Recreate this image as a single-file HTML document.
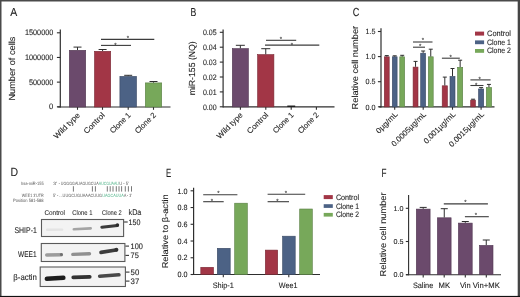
<!DOCTYPE html>
<html><head><meta charset="utf-8"><style>
html,body{margin:0;padding:0;background:#fff;}
body{width:520px;height:297px;overflow:hidden;position:relative;}
svg{position:absolute;left:0;top:0;font-family:"Liberation Sans", sans-serif;will-change:transform;text-rendering:geometricPrecision;}
</style></head><body>
<svg width="520" height="297" viewBox="0 0 520 297">
<defs>
<filter id="bl5" filterUnits="userSpaceOnUse" x="0" y="0" width="520" height="297"><feGaussianBlur stdDeviation="0.5"/></filter>
<filter id="bl6" filterUnits="userSpaceOnUse" x="0" y="0" width="520" height="297"><feGaussianBlur stdDeviation="0.6"/></filter>
<filter id="bl7" filterUnits="userSpaceOnUse" x="0" y="0" width="520" height="297"><feGaussianBlur stdDeviation="0.7"/></filter>
<filter id="bl8" filterUnits="userSpaceOnUse" x="0" y="0" width="520" height="297"><feGaussianBlur stdDeviation="0.8"/></filter>
<filter id="bl10" filterUnits="userSpaceOnUse" x="0" y="0" width="520" height="297"><feGaussianBlur stdDeviation="1.0"/></filter>
</defs>
<rect x="0" y="0" width="520" height="297" fill="#fff"/>
<text x="10.3" y="16.4" font-size="11.6" text-anchor="start" textLength="7.0" lengthAdjust="spacingAndGlyphs" fill="#1e1e1e" stroke="#1e1e1e" stroke-width="0.1">A</text>
<text x="15.0" y="100.6" font-size="8.8" text-anchor="start" textLength="64.0" lengthAdjust="spacingAndGlyphs" transform="rotate(-90 15.0 100.6)" fill="#1e1e1e" stroke="#1e1e1e" stroke-width="0.1">Number of cells</text>
<line x1="60.3" y1="29.4" x2="60.3" y2="107.4" stroke="#2e2e2e" stroke-width="1.2"/>
<line x1="56.9" y1="32.8" x2="60.3" y2="32.8" stroke="#2e2e2e" stroke-width="1.1"/>
<text x="53.3" y="35.3" font-size="7.9" text-anchor="end" textLength="28.3" lengthAdjust="spacingAndGlyphs" fill="#1e1e1e" stroke="#1e1e1e" stroke-width="0.1">1500000</text>
<line x1="56.9" y1="57.46666666666667" x2="60.3" y2="57.46666666666667" stroke="#2e2e2e" stroke-width="1.1"/>
<text x="53.3" y="59.96666666666667" font-size="7.9" text-anchor="end" textLength="28.3" lengthAdjust="spacingAndGlyphs" fill="#1e1e1e" stroke="#1e1e1e" stroke-width="0.1">1000000</text>
<line x1="56.9" y1="82.13333333333333" x2="60.3" y2="82.13333333333333" stroke="#2e2e2e" stroke-width="1.1"/>
<text x="53.3" y="84.63333333333333" font-size="7.9" text-anchor="end" textLength="24.3" lengthAdjust="spacingAndGlyphs" fill="#1e1e1e" stroke="#1e1e1e" stroke-width="0.1">500000</text>
<line x1="56.9" y1="106.8" x2="60.3" y2="106.8" stroke="#2e2e2e" stroke-width="1.1"/>
<text x="53.3" y="109.3" font-size="7.9" text-anchor="end" textLength="4.2" lengthAdjust="spacingAndGlyphs" fill="#1e1e1e" stroke="#1e1e1e" stroke-width="0.1">0</text>
<line x1="57.5" y1="107" x2="170.5" y2="107" stroke="#2e2e2e" stroke-width="1.1"/>
<line x1="77.5" y1="107" x2="77.5" y2="109.8" stroke="#2e2e2e" stroke-width="1.1"/>
<line x1="102.5" y1="107" x2="102.5" y2="109.8" stroke="#2e2e2e" stroke-width="1.1"/>
<line x1="128.2" y1="107" x2="128.2" y2="109.8" stroke="#2e2e2e" stroke-width="1.1"/>
<line x1="153.5" y1="107" x2="153.5" y2="109.8" stroke="#2e2e2e" stroke-width="1.1"/>
<rect x="69.30" y="50.30" width="16.40" height="56.70" fill="#6b4a6c" stroke="#503751" stroke-width="0.6"/>
<line x1="77.5" y1="50" x2="77.5" y2="47.1" stroke="#2e2e2e" stroke-width="1.0"/>
<line x1="73.5" y1="47.1" x2="81.5" y2="47.1" stroke="#2e2e2e" stroke-width="1.0"/>
<rect x="94.50" y="51.30" width="16.20" height="55.70" fill="#a23646" stroke="#792834" stroke-width="0.6"/>
<line x1="102.6" y1="51" x2="102.6" y2="49.5" stroke="#2e2e2e" stroke-width="1.0"/>
<line x1="98.6" y1="49.5" x2="106.6" y2="49.5" stroke="#2e2e2e" stroke-width="1.0"/>
<rect x="119.90" y="76.40" width="16.60" height="30.60" fill="#4c6285" stroke="#394963" stroke-width="0.6"/>
<line x1="128.2" y1="76.1" x2="128.2" y2="75.3" stroke="#2e2e2e" stroke-width="1.0"/>
<line x1="124.19999999999999" y1="75.3" x2="132.2" y2="75.3" stroke="#2e2e2e" stroke-width="1.0"/>
<rect x="145.30" y="82.90" width="16.40" height="24.10" fill="#77a85a" stroke="#597e43" stroke-width="0.6"/>
<line x1="153.5" y1="82.6" x2="153.5" y2="81.5" stroke="#2e2e2e" stroke-width="1.0"/>
<line x1="149.5" y1="81.5" x2="157.5" y2="81.5" stroke="#2e2e2e" stroke-width="1.0"/>
<line x1="101" y1="45.4" x2="131" y2="45.4" stroke="#3c3c3c" stroke-width="1.1"/>
<text x="115.3" y="46.6" font-size="6" text-anchor="middle" fill="#333" stroke="#333" stroke-width="0.1">*</text>
<line x1="101" y1="39.4" x2="154.3" y2="39.4" stroke="#3c3c3c" stroke-width="1.1"/>
<text x="128" y="40.300000000000004" font-size="6" text-anchor="middle" fill="#333" stroke="#333" stroke-width="0.1">*</text>
<text x="56.85" y="139.25" font-size="7.8" text-anchor="start" textLength="33.3" lengthAdjust="spacingAndGlyphs" transform="rotate(-45 56.85 139.25)" fill="#1e1e1e" stroke="#1e1e1e" stroke-width="0.1">Wild type</text>
<text x="86.73" y="134.37" font-size="7.8" text-anchor="start" textLength="26.4" lengthAdjust="spacingAndGlyphs" transform="rotate(-45 86.73 134.37)" fill="#1e1e1e" stroke="#1e1e1e" stroke-width="0.1">Control</text>
<text x="112.93" y="133.87" font-size="7.8" text-anchor="start" textLength="25.7" lengthAdjust="spacingAndGlyphs" transform="rotate(-45 112.93 133.87)" fill="#1e1e1e" stroke="#1e1e1e" stroke-width="0.1">Clone 1</text>
<text x="138.02" y="134.08" font-size="7.8" text-anchor="start" textLength="26.0" lengthAdjust="spacingAndGlyphs" transform="rotate(-45 138.02 134.08)" fill="#1e1e1e" stroke="#1e1e1e" stroke-width="0.1">Clone 2</text>
<text x="190.6" y="16.4" font-size="11.6" text-anchor="start" textLength="5.8" lengthAdjust="spacingAndGlyphs" fill="#1e1e1e" stroke="#1e1e1e" stroke-width="0.1">B</text>
<text x="195.3" y="95.3" font-size="8.8" text-anchor="start" textLength="54.0" lengthAdjust="spacingAndGlyphs" transform="rotate(-90 195.3 95.3)" fill="#1e1e1e" stroke="#1e1e1e" stroke-width="0.1">miR-155 (NQ)</text>
<line x1="223.1" y1="29.5" x2="223.1" y2="107.4" stroke="#2e2e2e" stroke-width="1.2"/>
<line x1="219.8" y1="32.3" x2="223.1" y2="32.3" stroke="#2e2e2e" stroke-width="1.1"/>
<text x="216.6" y="35.099999999999994" font-size="7.9" text-anchor="end" textLength="13.7" lengthAdjust="spacingAndGlyphs" fill="#1e1e1e" stroke="#1e1e1e" stroke-width="0.1">0.05</text>
<line x1="219.8" y1="47.2" x2="223.1" y2="47.2" stroke="#2e2e2e" stroke-width="1.1"/>
<text x="216.6" y="50.0" font-size="7.9" text-anchor="end" textLength="13.7" lengthAdjust="spacingAndGlyphs" fill="#1e1e1e" stroke="#1e1e1e" stroke-width="0.1">0.04</text>
<line x1="219.8" y1="62.1" x2="223.1" y2="62.1" stroke="#2e2e2e" stroke-width="1.1"/>
<text x="216.6" y="64.9" font-size="7.9" text-anchor="end" textLength="13.7" lengthAdjust="spacingAndGlyphs" fill="#1e1e1e" stroke="#1e1e1e" stroke-width="0.1">0.03</text>
<line x1="219.8" y1="77.0" x2="223.1" y2="77.0" stroke="#2e2e2e" stroke-width="1.1"/>
<text x="216.6" y="79.8" font-size="7.9" text-anchor="end" textLength="13.7" lengthAdjust="spacingAndGlyphs" fill="#1e1e1e" stroke="#1e1e1e" stroke-width="0.1">0.02</text>
<line x1="219.8" y1="91.9" x2="223.1" y2="91.9" stroke="#2e2e2e" stroke-width="1.1"/>
<text x="216.6" y="94.7" font-size="7.9" text-anchor="end" textLength="13.7" lengthAdjust="spacingAndGlyphs" fill="#1e1e1e" stroke="#1e1e1e" stroke-width="0.1">0.01</text>
<line x1="219.8" y1="106.8" x2="223.1" y2="106.8" stroke="#2e2e2e" stroke-width="1.1"/>
<text x="216.6" y="109.6" font-size="7.9" text-anchor="end" textLength="13.7" lengthAdjust="spacingAndGlyphs" fill="#1e1e1e" stroke="#1e1e1e" stroke-width="0.1">0.00</text>
<line x1="223.1" y1="106.9" x2="334.5" y2="106.9" stroke="#2e2e2e" stroke-width="1.1"/>
<line x1="240.4" y1="106.9" x2="240.4" y2="109.7" stroke="#2e2e2e" stroke-width="1.1"/>
<line x1="265.8" y1="106.9" x2="265.8" y2="109.7" stroke="#2e2e2e" stroke-width="1.1"/>
<line x1="291.2" y1="106.9" x2="291.2" y2="109.7" stroke="#2e2e2e" stroke-width="1.1"/>
<line x1="316.4" y1="106.9" x2="316.4" y2="109.7" stroke="#2e2e2e" stroke-width="1.1"/>
<text x="219.75" y="139.15" font-size="7.8" text-anchor="start" textLength="33.3" lengthAdjust="spacingAndGlyphs" transform="rotate(-45 219.75 139.15)" fill="#1e1e1e" stroke="#1e1e1e" stroke-width="0.1">Wild type</text>
<text x="250.03" y="134.27" font-size="7.8" text-anchor="start" textLength="26.4" lengthAdjust="spacingAndGlyphs" transform="rotate(-45 250.03 134.27)" fill="#1e1e1e" stroke="#1e1e1e" stroke-width="0.1">Control</text>
<text x="275.93" y="133.77" font-size="7.8" text-anchor="start" textLength="25.7" lengthAdjust="spacingAndGlyphs" transform="rotate(-45 275.93 133.77)" fill="#1e1e1e" stroke="#1e1e1e" stroke-width="0.1">Clone 1</text>
<text x="300.92" y="133.98" font-size="7.8" text-anchor="start" textLength="26.0" lengthAdjust="spacingAndGlyphs" transform="rotate(-45 300.92 133.98)" fill="#1e1e1e" stroke="#1e1e1e" stroke-width="0.1">Clone 2</text>
<rect x="232.30" y="48.60" width="16.10" height="58.30" fill="#6b4a6c" stroke="#503751" stroke-width="0.6"/>
<line x1="240.35" y1="48.3" x2="240.35" y2="45.3" stroke="#2e2e2e" stroke-width="1.0"/>
<line x1="235.85" y1="45.3" x2="244.85" y2="45.3" stroke="#2e2e2e" stroke-width="1.0"/>
<rect x="257.60" y="54.60" width="16.30" height="52.30" fill="#a23646" stroke="#792834" stroke-width="0.6"/>
<line x1="265.75" y1="54.3" x2="265.75" y2="48.7" stroke="#2e2e2e" stroke-width="1.0"/>
<line x1="261.25" y1="48.7" x2="270.25" y2="48.7" stroke="#2e2e2e" stroke-width="1.0"/>
<line x1="287.3" y1="106.2" x2="295.2" y2="106.2" stroke="#111" stroke-width="1.3"/>
<line x1="266" y1="40.3" x2="296.2" y2="40.3" stroke="#3c3c3c" stroke-width="1.1"/>
<text x="280.8" y="41.0" font-size="6" text-anchor="middle" fill="#333" stroke="#333" stroke-width="0.1">*</text>
<line x1="265" y1="45.1" x2="319.3" y2="45.1" stroke="#3c3c3c" stroke-width="1.1"/>
<text x="291.9" y="46.7" font-size="6" text-anchor="middle" fill="#333" stroke="#333" stroke-width="0.1">*</text>
<text x="352.8" y="16.4" font-size="11.6" text-anchor="start" textLength="6.6" lengthAdjust="spacingAndGlyphs" fill="#1e1e1e" stroke="#1e1e1e" stroke-width="0.1">C</text>
<text x="358.3" y="109.4" font-size="8.7" text-anchor="start" textLength="83.5" lengthAdjust="spacingAndGlyphs" transform="rotate(-90 358.3 109.4)" fill="#1e1e1e" stroke="#1e1e1e" stroke-width="0.1">Relative cell number</text>
<line x1="381" y1="28.3" x2="381" y2="107.4" stroke="#2e2e2e" stroke-width="1.2"/>
<line x1="377.9" y1="31.499999999999986" x2="381" y2="31.499999999999986" stroke="#2e2e2e" stroke-width="1.1"/>
<text x="375.5" y="34.19999999999999" font-size="7.6" text-anchor="end" textLength="10" lengthAdjust="spacingAndGlyphs" fill="#1e1e1e" stroke="#1e1e1e" stroke-width="0.1">1.5</text>
<line x1="377.9" y1="56.599999999999994" x2="381" y2="56.599999999999994" stroke="#2e2e2e" stroke-width="1.1"/>
<text x="375.5" y="59.3" font-size="7.6" text-anchor="end" textLength="10" lengthAdjust="spacingAndGlyphs" fill="#1e1e1e" stroke="#1e1e1e" stroke-width="0.1">1.0</text>
<line x1="377.9" y1="81.69999999999999" x2="381" y2="81.69999999999999" stroke="#2e2e2e" stroke-width="1.1"/>
<text x="375.5" y="84.39999999999999" font-size="7.6" text-anchor="end" textLength="10" lengthAdjust="spacingAndGlyphs" fill="#1e1e1e" stroke="#1e1e1e" stroke-width="0.1">0.5</text>
<line x1="377.9" y1="106.8" x2="381" y2="106.8" stroke="#2e2e2e" stroke-width="1.1"/>
<text x="375.5" y="109.5" font-size="7.6" text-anchor="end" textLength="10" lengthAdjust="spacingAndGlyphs" fill="#1e1e1e" stroke="#1e1e1e" stroke-width="0.1">0.0</text>
<line x1="379" y1="106.9" x2="494.5" y2="106.9" stroke="#2e2e2e" stroke-width="1.1"/>
<line x1="394.7" y1="106.9" x2="394.7" y2="109.7" stroke="#2e2e2e" stroke-width="1.1"/>
<line x1="423.2" y1="106.9" x2="423.2" y2="109.7" stroke="#2e2e2e" stroke-width="1.1"/>
<line x1="452.5" y1="106.9" x2="452.5" y2="109.7" stroke="#2e2e2e" stroke-width="1.1"/>
<line x1="481.1" y1="106.9" x2="481.1" y2="109.7" stroke="#2e2e2e" stroke-width="1.1"/>
<text x="379.11" y="133.99" font-size="7.8" text-anchor="start" textLength="27" lengthAdjust="spacingAndGlyphs" transform="rotate(-45 379.11 133.99)" fill="#1e1e1e" stroke="#1e1e1e" stroke-width="0.1">0µg/mL</text>
<text x="394.53" y="147.07" font-size="7.8" text-anchor="start" textLength="45.5" lengthAdjust="spacingAndGlyphs" transform="rotate(-45 394.53 147.07)" fill="#1e1e1e" stroke="#1e1e1e" stroke-width="0.1">0.0005µg/mL</text>
<text x="426.66" y="144.24" font-size="7.8" text-anchor="start" textLength="41.5" lengthAdjust="spacingAndGlyphs" transform="rotate(-45 426.66 144.24)" fill="#1e1e1e" stroke="#1e1e1e" stroke-width="0.1">0.001µg/mL</text>
<text x="452.07" y="147.43" font-size="7.8" text-anchor="start" textLength="46" lengthAdjust="spacingAndGlyphs" transform="rotate(-45 452.07 147.43)" fill="#1e1e1e" stroke="#1e1e1e" stroke-width="0.1">0.0015µg/mL</text>
<rect x="384.30" y="56.80" width="4.90" height="50.10" fill="#a23646" stroke="#792834" stroke-width="0.6"/>
<line x1="386.75" y1="56.5" x2="386.75" y2="55.6" stroke="#2e2e2e" stroke-width="1.0"/>
<line x1="384.75" y1="55.6" x2="388.75" y2="55.6" stroke="#2e2e2e" stroke-width="1.0"/>
<rect x="392.30" y="56.80" width="4.80" height="50.10" fill="#4c6285" stroke="#394963" stroke-width="0.6"/>
<line x1="394.7" y1="56.5" x2="394.7" y2="55.8" stroke="#2e2e2e" stroke-width="1.0"/>
<line x1="392.7" y1="55.8" x2="396.7" y2="55.8" stroke="#2e2e2e" stroke-width="1.0"/>
<rect x="399.80" y="56.80" width="4.80" height="50.10" fill="#77a85a" stroke="#597e43" stroke-width="0.6"/>
<line x1="402.2" y1="56.5" x2="402.2" y2="55.3" stroke="#2e2e2e" stroke-width="1.0"/>
<line x1="400.2" y1="55.3" x2="404.2" y2="55.3" stroke="#2e2e2e" stroke-width="1.0"/>
<rect x="413.10" y="67.10" width="4.90" height="39.80" fill="#a23646" stroke="#792834" stroke-width="0.6"/>
<line x1="415.55" y1="66.8" x2="415.55" y2="61.4" stroke="#2e2e2e" stroke-width="1.0"/>
<line x1="413.55" y1="61.4" x2="417.55" y2="61.4" stroke="#2e2e2e" stroke-width="1.0"/>
<rect x="420.70" y="53.20" width="4.90" height="53.70" fill="#4c6285" stroke="#394963" stroke-width="0.6"/>
<line x1="423.15" y1="52.9" x2="423.15" y2="51" stroke="#2e2e2e" stroke-width="1.0"/>
<line x1="421.15" y1="51" x2="425.15" y2="51" stroke="#2e2e2e" stroke-width="1.0"/>
<rect x="428.30" y="56.80" width="4.90" height="50.10" fill="#77a85a" stroke="#597e43" stroke-width="0.6"/>
<line x1="430.75" y1="56.5" x2="430.75" y2="49.2" stroke="#2e2e2e" stroke-width="1.0"/>
<line x1="428.75" y1="49.2" x2="432.75" y2="49.2" stroke="#2e2e2e" stroke-width="1.0"/>
<rect x="442.20" y="85.80" width="5.20" height="21.10" fill="#a23646" stroke="#792834" stroke-width="0.6"/>
<line x1="444.79999999999995" y1="85.5" x2="444.79999999999995" y2="77.1" stroke="#2e2e2e" stroke-width="1.0"/>
<line x1="442.79999999999995" y1="77.1" x2="446.79999999999995" y2="77.1" stroke="#2e2e2e" stroke-width="1.0"/>
<rect x="450.00" y="76.40" width="5.00" height="30.50" fill="#4c6285" stroke="#394963" stroke-width="0.6"/>
<line x1="452.5" y1="76.1" x2="452.5" y2="68.5" stroke="#2e2e2e" stroke-width="1.0"/>
<line x1="450.5" y1="68.5" x2="454.5" y2="68.5" stroke="#2e2e2e" stroke-width="1.0"/>
<rect x="457.60" y="67.30" width="5.10" height="39.60" fill="#77a85a" stroke="#597e43" stroke-width="0.6"/>
<line x1="460.15" y1="67" x2="460.15" y2="60.2" stroke="#2e2e2e" stroke-width="1.0"/>
<line x1="458.15" y1="60.2" x2="462.15" y2="60.2" stroke="#2e2e2e" stroke-width="1.0"/>
<rect x="470.70" y="100.10" width="4.70" height="6.80" fill="#a23646" stroke="#792834" stroke-width="0.6"/>
<line x1="473.04999999999995" y1="99.8" x2="473.04999999999995" y2="99.2" stroke="#2e2e2e" stroke-width="1.0"/>
<line x1="471.04999999999995" y1="99.2" x2="475.04999999999995" y2="99.2" stroke="#2e2e2e" stroke-width="1.0"/>
<rect x="478.50" y="89.00" width="5.20" height="17.90" fill="#4c6285" stroke="#394963" stroke-width="0.6"/>
<line x1="481.1" y1="88.7" x2="481.1" y2="87.6" stroke="#2e2e2e" stroke-width="1.0"/>
<line x1="479.1" y1="87.6" x2="483.1" y2="87.6" stroke="#2e2e2e" stroke-width="1.0"/>
<rect x="486.30" y="87.50" width="5.30" height="19.40" fill="#77a85a" stroke="#597e43" stroke-width="0.6"/>
<line x1="488.95" y1="87.2" x2="488.95" y2="84.4" stroke="#2e2e2e" stroke-width="1.0"/>
<line x1="486.95" y1="84.4" x2="490.95" y2="84.4" stroke="#2e2e2e" stroke-width="1.0"/>
<line x1="413" y1="42" x2="432.5" y2="42" stroke="#3c3c3c" stroke-width="1.1"/>
<text x="423" y="42.0" font-size="6" text-anchor="middle" fill="#333" stroke="#333" stroke-width="0.1">*</text>
<line x1="413" y1="47.2" x2="425" y2="47.2" stroke="#3c3c3c" stroke-width="1.1"/>
<text x="420.2" y="47.9" font-size="6" text-anchor="middle" fill="#333" stroke="#333" stroke-width="0.1">*</text>
<line x1="441.9" y1="58.2" x2="459.8" y2="58.2" stroke="#3c3c3c" stroke-width="1.1"/>
<text x="450.7" y="59.300000000000004" font-size="6" text-anchor="middle" fill="#333" stroke="#333" stroke-width="0.1">*</text>
<line x1="470.4" y1="79.9" x2="490.6" y2="79.9" stroke="#3c3c3c" stroke-width="1.1"/>
<text x="479.7" y="81.0" font-size="6" text-anchor="middle" fill="#333" stroke="#333" stroke-width="0.1">*</text>
<line x1="470.4" y1="85.5" x2="483.5" y2="85.5" stroke="#3c3c3c" stroke-width="1.1"/>
<text x="476.2" y="87.0" font-size="6" text-anchor="middle" fill="#333" stroke="#333" stroke-width="0.1">*</text>
<rect x="475.00" y="31.60" width="9.10" height="4.00" fill="#a23646"/>
<text x="487" y="36.1" font-size="7.9" text-anchor="start" textLength="24" lengthAdjust="spacingAndGlyphs" fill="#1e1e1e" stroke="#1e1e1e" stroke-width="0.1">Control</text>
<rect x="475.00" y="40.40" width="9.10" height="3.80" fill="#4c6285"/>
<text x="487" y="44.7" font-size="7.9" text-anchor="start" textLength="24" lengthAdjust="spacingAndGlyphs" fill="#1e1e1e" stroke="#1e1e1e" stroke-width="0.1">Clone 1</text>
<rect x="475.00" y="49.00" width="9.10" height="3.80" fill="#77a85a"/>
<text x="487" y="53.3" font-size="7.9" text-anchor="start" textLength="24" lengthAdjust="spacingAndGlyphs" fill="#1e1e1e" stroke="#1e1e1e" stroke-width="0.1">Clone 2</text>
<text x="10.4" y="176.4" font-size="11.8" text-anchor="start" textLength="7.6" lengthAdjust="spacingAndGlyphs" fill="#1e1e1e" stroke="#1e1e1e" stroke-width="0.1">D</text>
<text x="43.6" y="184.7" font-size="4.6" text-anchor="end" textLength="22.6" lengthAdjust="spacingAndGlyphs" fill="#585858">hsa-miR-155</text>
<text x="43.6" y="196.6" font-size="4.6" text-anchor="end" textLength="21.9" lengthAdjust="spacingAndGlyphs" fill="#585858">WEE1 3′UTR</text>
<text x="43.6" y="202.1" font-size="4.6" text-anchor="end" textLength="30.5" lengthAdjust="spacingAndGlyphs" fill="#585858">Position 581-588</text>
<text x="53" y="184.5" font-size="4.6" text-anchor="start" textLength="7.4" lengthAdjust="spacingAndGlyphs" fill="#585858">3′ - </text>
<text x="60.8" y="184.5" font-size="4.6" text-anchor="start" textLength="37.8" lengthAdjust="spacingAndGlyphs" fill="#585858">UGGGGAUAGUGCUA</text>
<text x="98.8" y="184.5" font-size="4.6" text-anchor="start" textLength="20.1" lengthAdjust="spacingAndGlyphs" fill="#4cb387">AUCGUAAU</text>
<text x="119.2" y="184.5" font-size="4.6" text-anchor="start" textLength="9.5" lengthAdjust="spacingAndGlyphs" fill="#585858">U - 5′</text>
<text x="53" y="196.8" font-size="4.6" text-anchor="start" textLength="49" lengthAdjust="spacingAndGlyphs" fill="#585858">5′ - ...UUGCUGUAAACUUG</text>
<text x="102.2" y="196.8" font-size="4.6" text-anchor="start" textLength="21.6" lengthAdjust="spacingAndGlyphs" fill="#4cb387">UAGCAUUA</text>
<text x="124" y="196.8" font-size="4.6" text-anchor="start" textLength="7.8" lengthAdjust="spacingAndGlyphs" fill="#585858">A - 3′</text>
<line x1="73.4" y1="186.2" x2="73.4" y2="191.6" stroke="#555" stroke-width="0.8"/>
<line x1="92.4" y1="186.2" x2="92.4" y2="191.6" stroke="#555" stroke-width="0.8"/>
<line x1="95.4" y1="186.2" x2="95.4" y2="191.6" stroke="#555" stroke-width="0.8"/>
<line x1="107.3" y1="186.2" x2="107.3" y2="191.6" stroke="#555" stroke-width="0.8"/>
<line x1="110.2" y1="186.2" x2="110.2" y2="191.6" stroke="#555" stroke-width="0.8"/>
<line x1="113.0" y1="186.2" x2="113.0" y2="191.6" stroke="#555" stroke-width="0.8"/>
<line x1="116.3" y1="186.2" x2="116.3" y2="191.6" stroke="#555" stroke-width="0.8"/>
<line x1="119.0" y1="186.2" x2="119.0" y2="191.6" stroke="#555" stroke-width="0.8"/>
<line x1="121.6" y1="186.2" x2="121.6" y2="191.6" stroke="#555" stroke-width="0.8"/>
<line x1="125.3" y1="186.2" x2="125.3" y2="191.6" stroke="#555" stroke-width="0.8"/>
<line x1="128.4" y1="186.2" x2="128.4" y2="191.6" stroke="#555" stroke-width="0.8"/>
<line x1="131.5" y1="186.2" x2="131.5" y2="191.6" stroke="#555" stroke-width="0.8"/>
<rect x="41.5" y="219.5" width="82.1" height="17.0" fill="#f3f3f3" stroke="#5a5a5a" stroke-width="1.1"/>
<rect x="41.3" y="243.5" width="83.6" height="18.0" fill="#f3f3f3" stroke="#5a5a5a" stroke-width="1.1"/>
<rect x="40.2" y="267.0" width="85.2" height="19.5" fill="#f3f3f3" stroke="#5a5a5a" stroke-width="1.1"/>
<line x1="47.2" y1="229.8" x2="62.2" y2="229.6" stroke="#e4e4e4" stroke-width="2.4" stroke-linecap="round" opacity="1" filter="url(#bl7)"/>
<line x1="73.8" y1="229.3" x2="90.7" y2="228.4" stroke="#a4a4a4" stroke-width="2.6" stroke-linecap="round" opacity="1" filter="url(#bl7)"/>
<line x1="101.8" y1="227.2" x2="117.5" y2="225.4" stroke="#3a3a3a" stroke-width="3.0" stroke-linecap="round" opacity="1" filter="url(#bl7)"/>
<ellipse cx="117.4" cy="225.0" rx="1.8" ry="1.8" fill="#2c2c2c" filter="url(#bl7)"/>
<line x1="46.7" y1="255.0" x2="61.4" y2="254.8" stroke="#9c9c9c" stroke-width="3.4" stroke-linecap="round" opacity="1" filter="url(#bl7)"/>
<ellipse cx="61.4" cy="254.6" rx="1.5" ry="1.5" fill="#707070" filter="url(#bl7)"/>
<line x1="72.8" y1="254.4" x2="89.5" y2="253.8" stroke="#909090" stroke-width="3.4" stroke-linecap="round" opacity="1" filter="url(#bl7)"/>
<line x1="101.0" y1="252.4" x2="115.9" y2="250.0" stroke="#3e3e3e" stroke-width="3.6" stroke-linecap="round" opacity="1" filter="url(#bl7)"/>
<ellipse cx="116.4" cy="249.7" rx="2" ry="2" fill="#323232" filter="url(#bl7)"/>
<line x1="46.8" y1="278.8" x2="63.4" y2="277.8" stroke="#1c1c1c" stroke-width="4.4" stroke-linecap="round" opacity="1" filter="url(#bl7)"/>
<line x1="73.3" y1="277.4" x2="89.7" y2="276.8" stroke="#303030" stroke-width="3.8" stroke-linecap="round" opacity="1" filter="url(#bl7)"/>
<line x1="99.7" y1="276.2" x2="118.9" y2="274.8" stroke="#4a4a4a" stroke-width="3.6" stroke-linecap="round" opacity="1" filter="url(#bl7)"/>
<text x="36.8" y="233.3" font-size="8.4" text-anchor="end" textLength="22.3" lengthAdjust="spacingAndGlyphs" fill="#1e1e1e" stroke="#1e1e1e" stroke-width="0.1">SHIP-1</text>
<text x="36.6" y="256.6" font-size="8.4" text-anchor="end" textLength="18.5" lengthAdjust="spacingAndGlyphs" fill="#1e1e1e" stroke="#1e1e1e" stroke-width="0.1">WEE1</text>
<text x="36.9" y="279.8" font-size="8.4" text-anchor="end" textLength="23.6" lengthAdjust="spacingAndGlyphs" fill="#1e1e1e" stroke="#1e1e1e" stroke-width="0.1">β-actin</text>
<text x="54.75" y="215.0" font-size="6.9" text-anchor="middle" textLength="20.6" lengthAdjust="spacingAndGlyphs" fill="#1e1e1e" stroke="#1e1e1e" stroke-width="0.06">Control</text>
<text x="82.4" y="215.0" font-size="6.9" text-anchor="middle" textLength="20.2" lengthAdjust="spacingAndGlyphs" fill="#1e1e1e" stroke="#1e1e1e" stroke-width="0.06">Clone 1</text>
<text x="111.9" y="215.0" font-size="6.9" text-anchor="middle" textLength="19.6" lengthAdjust="spacingAndGlyphs" fill="#1e1e1e" stroke="#1e1e1e" stroke-width="0.06">Clone 2</text>
<text x="128.5" y="214.6" font-size="8.2" text-anchor="start" textLength="12.9" lengthAdjust="spacingAndGlyphs" fill="#1e1e1e" stroke="#1e1e1e" stroke-width="0.05">kDa</text>
<line x1="124.1" y1="222.0" x2="127.69999999999999" y2="222.0" stroke="#333" stroke-width="1.1"/>
<text x="128.6" y="224.9" font-size="8.0" text-anchor="start" textLength="11.9" lengthAdjust="spacingAndGlyphs" fill="#1e1e1e" stroke="#1e1e1e" stroke-width="0.1">150</text>
<line x1="125.4" y1="246.1" x2="129.0" y2="246.1" stroke="#333" stroke-width="1.1"/>
<text x="130.6" y="249.0" font-size="8.0" text-anchor="start" textLength="12.3" lengthAdjust="spacingAndGlyphs" fill="#1e1e1e" stroke="#1e1e1e" stroke-width="0.1">100</text>
<line x1="125.4" y1="255.4" x2="129.0" y2="255.4" stroke="#333" stroke-width="1.1"/>
<text x="130.6" y="258.3" font-size="8.0" text-anchor="start" textLength="8.3" lengthAdjust="spacingAndGlyphs" fill="#1e1e1e" stroke="#1e1e1e" stroke-width="0.1">75</text>
<line x1="125.9" y1="272.1" x2="129.5" y2="272.1" stroke="#333" stroke-width="1.1"/>
<text x="130.6" y="275.0" font-size="8.0" text-anchor="start" textLength="8.7" lengthAdjust="spacingAndGlyphs" fill="#1e1e1e" stroke="#1e1e1e" stroke-width="0.1">50</text>
<line x1="125.9" y1="281.1" x2="129.5" y2="281.1" stroke="#333" stroke-width="1.1"/>
<text x="130.6" y="284.0" font-size="8.0" text-anchor="start" textLength="8.7" lengthAdjust="spacingAndGlyphs" fill="#1e1e1e" stroke="#1e1e1e" stroke-width="0.1">37</text>
<text x="165.9" y="176.9" font-size="11.8" text-anchor="start" textLength="5.2" lengthAdjust="spacingAndGlyphs" fill="#1e1e1e" stroke="#1e1e1e" stroke-width="0.1">E</text>
<text x="168.3" y="268.3" font-size="8.4" text-anchor="start" textLength="74" lengthAdjust="spacingAndGlyphs" transform="rotate(-90 168.3 268.3)" fill="#1e1e1e" stroke="#1e1e1e" stroke-width="0.1">Relative to β-actin</text>
<line x1="193.6" y1="187.8" x2="193.6" y2="275" stroke="#2e2e2e" stroke-width="1.2"/>
<line x1="190.6" y1="190.8" x2="193.6" y2="190.8" stroke="#2e2e2e" stroke-width="1.1"/>
<text x="177.4" y="193.5" font-size="7.7" text-anchor="start" textLength="10.0" lengthAdjust="spacingAndGlyphs" fill="#1e1e1e" stroke="#1e1e1e" stroke-width="0.1">1.0</text>
<line x1="190.6" y1="207.54" x2="193.6" y2="207.54" stroke="#2e2e2e" stroke-width="1.1"/>
<text x="177.4" y="210.23999999999998" font-size="7.7" text-anchor="start" textLength="10.0" lengthAdjust="spacingAndGlyphs" fill="#1e1e1e" stroke="#1e1e1e" stroke-width="0.1">0.8</text>
<line x1="190.6" y1="224.28" x2="193.6" y2="224.28" stroke="#2e2e2e" stroke-width="1.1"/>
<text x="177.4" y="226.98" font-size="7.7" text-anchor="start" textLength="10.0" lengthAdjust="spacingAndGlyphs" fill="#1e1e1e" stroke="#1e1e1e" stroke-width="0.1">0.6</text>
<line x1="190.6" y1="241.01999999999998" x2="193.6" y2="241.01999999999998" stroke="#2e2e2e" stroke-width="1.1"/>
<text x="177.4" y="243.71999999999997" font-size="7.7" text-anchor="start" textLength="10.0" lengthAdjust="spacingAndGlyphs" fill="#1e1e1e" stroke="#1e1e1e" stroke-width="0.1">0.4</text>
<line x1="190.6" y1="257.76" x2="193.6" y2="257.76" stroke="#2e2e2e" stroke-width="1.1"/>
<text x="177.4" y="260.46" font-size="7.7" text-anchor="start" textLength="10.0" lengthAdjust="spacingAndGlyphs" fill="#1e1e1e" stroke="#1e1e1e" stroke-width="0.1">0.2</text>
<line x1="190.6" y1="274.5" x2="193.6" y2="274.5" stroke="#2e2e2e" stroke-width="1.1"/>
<text x="177.4" y="277.2" font-size="7.7" text-anchor="start" textLength="10.0" lengthAdjust="spacingAndGlyphs" fill="#1e1e1e" stroke="#1e1e1e" stroke-width="0.1">0.0</text>
<line x1="191" y1="274.5" x2="320" y2="274.5" stroke="#2e2e2e" stroke-width="1.1"/>
<line x1="223.3" y1="274.5" x2="223.3" y2="277.2" stroke="#2e2e2e" stroke-width="1.1"/>
<line x1="288.8" y1="274.5" x2="288.8" y2="277.2" stroke="#2e2e2e" stroke-width="1.1"/>
<text x="223.3" y="287.9" font-size="7.8" text-anchor="middle" textLength="21.2" lengthAdjust="spacingAndGlyphs" fill="#1e1e1e" stroke="#1e1e1e" stroke-width="0.1">Ship-1</text>
<text x="288.1" y="287.9" font-size="7.8" text-anchor="middle" textLength="18.6" lengthAdjust="spacingAndGlyphs" fill="#1e1e1e" stroke="#1e1e1e" stroke-width="0.1">Wee1</text>
<rect x="200.80" y="267.30" width="12.70" height="7.20" fill="#a23646" stroke="#792834" stroke-width="0.6"/>
<rect x="217.30" y="248.30" width="12.90" height="26.20" fill="#4c6285" stroke="#394963" stroke-width="0.6"/>
<rect x="234.70" y="203.20" width="12.60" height="71.30" fill="#77a85a" stroke="#597e43" stroke-width="0.6"/>
<rect x="265.30" y="250.10" width="12.40" height="24.40" fill="#a23646" stroke="#792834" stroke-width="0.6"/>
<rect x="282.60" y="236.20" width="12.60" height="38.30" fill="#4c6285" stroke="#394963" stroke-width="0.6"/>
<rect x="299.70" y="209.00" width="12.60" height="65.50" fill="#77a85a" stroke="#597e43" stroke-width="0.6"/>
<line x1="203.2" y1="194.7" x2="237.4" y2="194.7" stroke="#3c3c3c" stroke-width="1.1"/>
<text x="218.5" y="194.7" font-size="6" text-anchor="middle" fill="#333" stroke="#333" stroke-width="0.1">*</text>
<line x1="203.2" y1="201.7" x2="223.7" y2="201.7" stroke="#3c3c3c" stroke-width="1.1"/>
<text x="211.9" y="202.5" font-size="6" text-anchor="middle" fill="#333" stroke="#333" stroke-width="0.1">*</text>
<line x1="267.6" y1="194.3" x2="305.2" y2="194.3" stroke="#3c3c3c" stroke-width="1.1"/>
<text x="285.9" y="195.2" font-size="6" text-anchor="middle" fill="#333" stroke="#333" stroke-width="0.1">*</text>
<line x1="267.6" y1="201.7" x2="289" y2="201.7" stroke="#3c3c3c" stroke-width="1.1"/>
<text x="277.3" y="202.7" font-size="6" text-anchor="middle" fill="#333" stroke="#333" stroke-width="0.1">*</text>
<rect x="323.70" y="195.10" width="9.10" height="4.00" fill="#a23646"/>
<text x="335.9" y="199.9" font-size="7.9" text-anchor="start" textLength="23.2" lengthAdjust="spacingAndGlyphs" fill="#1e1e1e" stroke="#1e1e1e" stroke-width="0.1">Control</text>
<rect x="323.70" y="204.20" width="9.10" height="3.70" fill="#4c6285"/>
<text x="335.9" y="208.70000000000002" font-size="7.9" text-anchor="start" textLength="23.2" lengthAdjust="spacingAndGlyphs" fill="#1e1e1e" stroke="#1e1e1e" stroke-width="0.1">Clone 1</text>
<rect x="323.70" y="212.90" width="9.10" height="3.70" fill="#77a85a"/>
<text x="335.9" y="217.4" font-size="7.9" text-anchor="start" textLength="23.2" lengthAdjust="spacingAndGlyphs" fill="#1e1e1e" stroke="#1e1e1e" stroke-width="0.1">Clone 2</text>
<text x="381.5" y="176.9" font-size="11.8" text-anchor="start" textLength="5.0" lengthAdjust="spacingAndGlyphs" fill="#1e1e1e" stroke="#1e1e1e" stroke-width="0.1">F</text>
<text x="385.6" y="276.4" font-size="8.6" text-anchor="start" textLength="84" lengthAdjust="spacingAndGlyphs" transform="rotate(-90 385.6 276.4)" fill="#1e1e1e" stroke="#1e1e1e" stroke-width="0.1">Relative cell number</text>
<line x1="408.6" y1="195" x2="408.6" y2="275.2" stroke="#2e2e2e" stroke-width="1.1"/>
<line x1="405.8" y1="208.29999999999998" x2="408.6" y2="208.29999999999998" stroke="#2e2e2e" stroke-width="1.1"/>
<text x="403.5" y="210.79999999999998" font-size="7" text-anchor="end" textLength="10" lengthAdjust="spacingAndGlyphs" fill="#1e1e1e" stroke="#1e1e1e" stroke-width="0.1">1.0</text>
<line x1="405.8" y1="241.5" x2="408.6" y2="241.5" stroke="#2e2e2e" stroke-width="1.1"/>
<text x="403.5" y="244.0" font-size="7" text-anchor="end" textLength="10" lengthAdjust="spacingAndGlyphs" fill="#1e1e1e" stroke="#1e1e1e" stroke-width="0.1">0.5</text>
<line x1="405.8" y1="274.7" x2="408.6" y2="274.7" stroke="#2e2e2e" stroke-width="1.1"/>
<text x="403.5" y="277.2" font-size="7" text-anchor="end" textLength="10" lengthAdjust="spacingAndGlyphs" fill="#1e1e1e" stroke="#1e1e1e" stroke-width="0.1">0.0</text>
<line x1="406" y1="274.7" x2="501" y2="274.7" stroke="#2e2e2e" stroke-width="1.1"/>
<line x1="423.2" y1="274.7" x2="423.2" y2="277.5" stroke="#2e2e2e" stroke-width="1.1"/>
<line x1="444.2" y1="274.7" x2="444.2" y2="277.5" stroke="#2e2e2e" stroke-width="1.1"/>
<line x1="465.3" y1="274.7" x2="465.3" y2="277.5" stroke="#2e2e2e" stroke-width="1.1"/>
<line x1="486.3" y1="274.7" x2="486.3" y2="277.5" stroke="#2e2e2e" stroke-width="1.1"/>
<rect x="416.30" y="209.10" width="13.80" height="65.60" fill="#6b4a6c" stroke="#503751" stroke-width="0.6"/>
<line x1="423.2" y1="208.8" x2="423.2" y2="207.4" stroke="#2e2e2e" stroke-width="1.0"/>
<line x1="419.7" y1="207.4" x2="426.7" y2="207.4" stroke="#2e2e2e" stroke-width="1.0"/>
<rect x="437.40" y="217.80" width="13.70" height="56.90" fill="#6b4a6c" stroke="#503751" stroke-width="0.6"/>
<line x1="444.25" y1="217.5" x2="444.25" y2="208.7" stroke="#2e2e2e" stroke-width="1.0"/>
<line x1="440.75" y1="208.7" x2="447.75" y2="208.7" stroke="#2e2e2e" stroke-width="1.0"/>
<rect x="458.40" y="223.10" width="13.80" height="51.60" fill="#6b4a6c" stroke="#503751" stroke-width="0.6"/>
<line x1="465.3" y1="222.8" x2="465.3" y2="221.5" stroke="#2e2e2e" stroke-width="1.0"/>
<line x1="461.8" y1="221.5" x2="468.8" y2="221.5" stroke="#2e2e2e" stroke-width="1.0"/>
<rect x="479.50" y="245.40" width="13.50" height="29.30" fill="#6b4a6c" stroke="#503751" stroke-width="0.6"/>
<line x1="486.25" y1="245.1" x2="486.25" y2="240.0" stroke="#2e2e2e" stroke-width="1.0"/>
<line x1="482.75" y1="240.0" x2="489.75" y2="240.0" stroke="#2e2e2e" stroke-width="1.0"/>
<line x1="443.8" y1="203.9" x2="487.9" y2="203.9" stroke="#3c3c3c" stroke-width="1.1"/>
<text x="465.5" y="204.2" font-size="6" text-anchor="middle" fill="#333" stroke="#333" stroke-width="0.1">*</text>
<line x1="464.9" y1="216.7" x2="488.8" y2="216.7" stroke="#3c3c3c" stroke-width="1.1"/>
<text x="476" y="217.2" font-size="6" text-anchor="middle" fill="#333" stroke="#333" stroke-width="0.1">*</text>
<text x="412.9" y="288.4" font-size="7.8" text-anchor="start" textLength="20.4" lengthAdjust="spacingAndGlyphs" fill="#1e1e1e" stroke="#1e1e1e" stroke-width="0.1">Saline</text>
<text x="438.6" y="288.4" font-size="7.8" text-anchor="start" textLength="11.5" lengthAdjust="spacingAndGlyphs" fill="#1e1e1e" stroke="#1e1e1e" stroke-width="0.1">MK</text>
<text x="460" y="288.4" font-size="7.8" text-anchor="start" textLength="10.7" lengthAdjust="spacingAndGlyphs" fill="#1e1e1e" stroke="#1e1e1e" stroke-width="0.1">Vin</text>
<text x="472.8" y="288.4" font-size="7.8" text-anchor="start" textLength="27.0" lengthAdjust="spacingAndGlyphs" fill="#1e1e1e" stroke="#1e1e1e" stroke-width="0.1">Vin+MK</text>
<rect x="0" y="0" width="520" height="1.5" fill="#4a4a4a"/>
<rect x="0" y="0" width="1.5" height="297" fill="#4a4a4a"/>
<rect x="517.7" y="0" width="2.3" height="297" fill="#454545"/>
<rect x="0" y="295.9" width="520" height="1.1" fill="#111"/>
</svg>
</body></html>
